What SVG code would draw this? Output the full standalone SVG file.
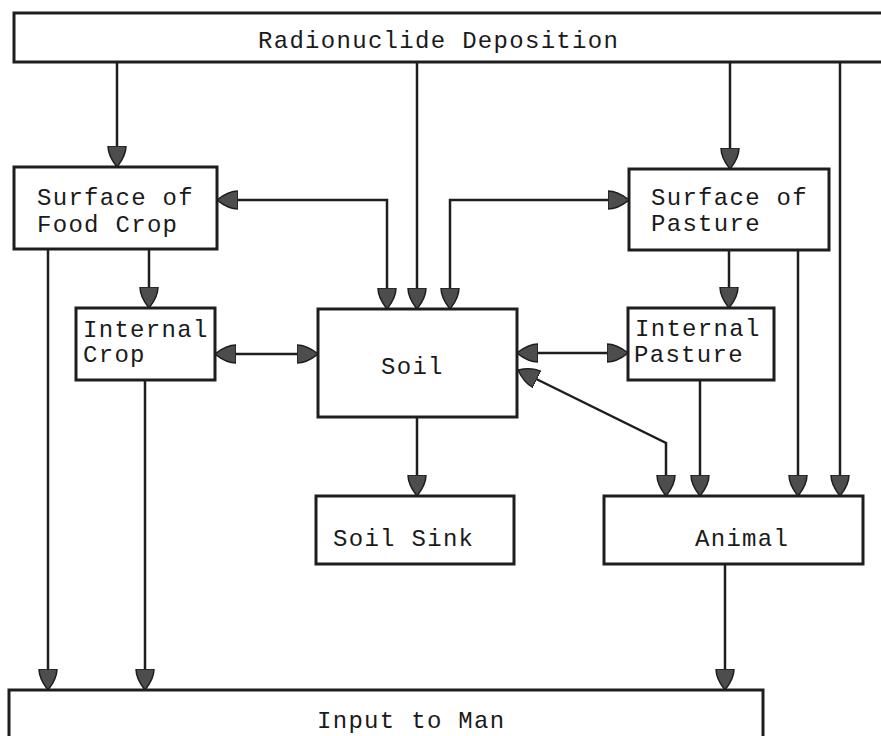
<svg xmlns="http://www.w3.org/2000/svg" width="881" height="736" viewBox="0 0 881 736">
<defs>
<marker id="ah" viewBox="0 0 21 20" refX="21" refY="10" markerWidth="21" markerHeight="20" markerUnits="userSpaceOnUse" orient="auto-start-reverse">
<path d="M0,1 C9,1 16,6 21,10 C16,14 9,19 0,19 z" fill="#4d4d4d" stroke="#1e1e1e" stroke-width="1.5" stroke-linejoin="round"/>
</marker>
<style>
.box{fill:#fff;stroke:#1e1e1e;stroke-width:3}
.lbl{font-family:"Liberation Mono","DejaVu Sans Mono",monospace;font-size:24px;letter-spacing:1.3px;fill:#1a1a1a}
.c path{fill:none;stroke:#1e1e1e;stroke-width:2.5}
.one{marker-end:url(#ah)}
.two{marker-start:url(#ah);marker-end:url(#ah)}
</style>
</defs>
<rect width="881" height="736" fill="#fff"/>
<g id="deposition"><rect class="box" x="14" y="13" width="880" height="49"/><text class="lbl" x="258" y="48">Radionuclide Deposition</text></g>
<g id="surface-food-crop"><rect class="box" x="14" y="167" width="203" height="82"/><text class="lbl" x="37" y="205">Surface of</text><text class="lbl" x="37" y="232">Food Crop</text></g>
<g id="surface-pasture"><rect class="box" x="629" y="169" width="200" height="81"/><text class="lbl" x="651" y="205">Surface of</text><text class="lbl" x="651" y="231">Pasture</text></g>
<g id="internal-crop"><rect class="box" x="76" y="308" width="139" height="72"/><text class="lbl" x="83" y="337">Internal</text><text class="lbl" x="83" y="362">Crop</text></g>
<g id="soil"><rect class="box" x="318" y="309" width="199" height="108"/><text class="lbl" x="381" y="374">Soil</text></g>
<g id="internal-pasture"><rect class="box" x="628" y="308" width="146" height="72"/><text class="lbl" x="635" y="336">Internal</text><text class="lbl" x="634" y="362">Pasture</text></g>
<g id="soil-sink"><rect class="box" x="316" y="496" width="198" height="68"/><text class="lbl" x="333" y="546">Soil Sink</text></g>
<g id="animal"><rect class="box" x="604" y="496" width="259" height="68"/><text class="lbl" x="695" y="546">Animal</text></g>
<g id="input-to-man"><rect class="box" x="9" y="690" width="754" height="70"/><text class="lbl" x="317" y="728">Input to Man</text></g>
<g id="connectors" class="c">
<path class="one" d="M117,63 V167"/>
<path class="one" d="M417,63 V309"/>
<path class="one" d="M730,63 V169"/>
<path class="one" d="M840,63 V496"/>
<path class="two" d="M217,200 H387 V309"/>
<path class="two" d="M450,309 V200 H629"/>
<path class="one" d="M149,249 V308"/>
<path class="one" d="M48,249 V690"/>
<path class="one" d="M145,380 V690"/>
<path class="two" d="M215,354 H318"/>
<path class="one" d="M417,417 V496"/>
<path class="two" d="M517,353 H628"/>
<path class="two" d="M518,370 L666,443 V496"/>
<path class="one" d="M729,250 V308"/>
<path class="one" d="M700,380 V496"/>
<path class="one" d="M798,250 V496"/>
<path class="one" d="M725,564 V690"/>
</g>
</svg>
